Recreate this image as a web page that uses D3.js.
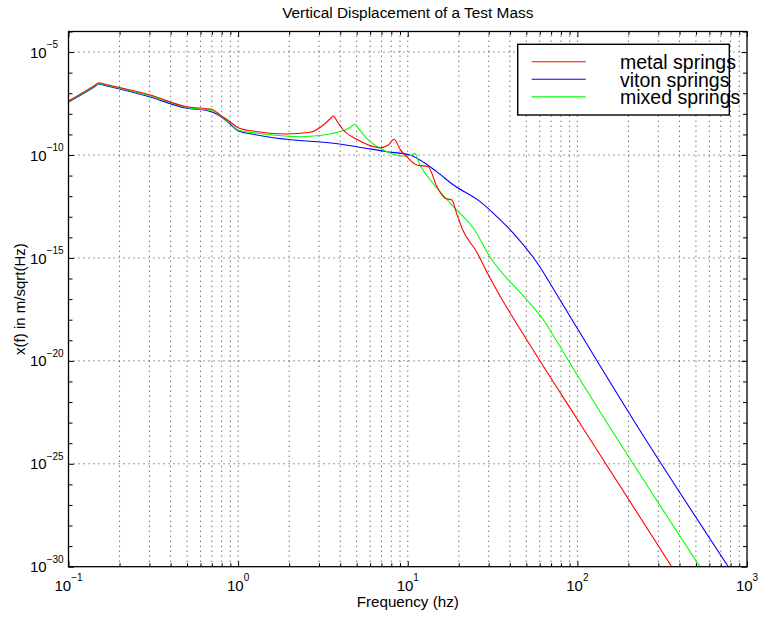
<!DOCTYPE html>
<html><head><meta charset="utf-8">
<script src="https://cdn.jsdelivr.net/npm/d3@7"></script>
<style>
body{margin:0;background:#fff}
svg{display:block;font-family:"Liberation Sans",Arial,Helvetica,sans-serif}
</style>
</head><body>
<svg id="chart" width="759" height="618"></svg>
<script>
// ---------- data ----------
const title = "Vertical Displacement of a Test Mass";
const xLabel = "Frequency (hz)";
const yLabel = "x(f) in m/sqrt(Hz)";
const seriesNames = ["metal springs", "viton springs", "mixed springs"];
const seriesColors = ["#ff0000", "#0000ff", "#00ff00"];

const metalFreq = [0.1, 0.1433, 0.151, 0.1597, 0.303, 0.498, 0.653, 0.70, 0.782, 0.895, 1.0, 1.3, 1.93, 2.65, 3.18, 3.48, 3.64, 3.83, 4.17, 5.0, 6.87, 7.69, 8.3, 9.02, 9.87, 11.3, 13.2, 14.8, 16.6, 18.2, 19.4, 21.1, 25.5, 29.7, 35.0, 50.4, 99, 360];
const metalVal  = [4.17e-8, 2.49e-7, 3.26e-7, 2.91e-7, 8.22e-8, 2.22e-8, 1.78e-8, 1.66e-8, 8.79e-9, 4.15e-9, 2.12e-9, 1.36e-9, 1.05e-9, 1.27e-9, 2.87e-9, 5.61e-9, 7.85e-9, 4.39e-9, 1.64e-9, 5.79e-10, 2.26e-10, 3.06e-10, 5.79e-10, 1.89e-10, 8.28e-11, 3.27e-11, 2.70e-11, 3.13e-12, 7.89e-13, 6.52e-13, 1.47e-13, 2.28e-14, 1.94e-15, 1.66e-16, 1.42e-17, 1.03e-19, 1.62e-23, 1.0e-30];

const vitonFreq = [0.1, 0.1433, 0.151, 0.1597, 0.303, 0.498, 0.653, 0.70, 0.782, 0.895, 1.0, 1.23, 1.93, 3.64, 5.0, 7.52, 10.3, 11.8, 14.8, 18.6, 26.7, 32.0, 42.0, 56.4, 79.1, 104, 214, 776];
const vitonVal  = [3.76e-8, 2.15e-7, 2.82e-7, 2.52e-7, 6.61e-8, 1.86e-8, 1.45e-8, 1.23e-8, 7.85e-9, 3.21e-9, 1.51e-9, 1.01e-9, 5.79e-10, 3.71e-10, 2.54e-10, 1.45e-10, 1.0e-10, 5.73e-11, 1.55e-11, 3.49e-12, 5.40e-13, 1.47e-13, 1.57e-14, 7.94e-16, 9.06e-18, 2.18e-19, 1.34e-23, 1.0e-30];

const mixedFreq = [0.1, 0.1433, 0.151, 0.1597, 0.303, 0.498, 0.70, 0.782, 0.895, 1.0, 1.3, 2.42, 3.64, 4.37, 4.63, 4.89, 5.16, 5.73, 6.87, 8.22, 9.42, 10.6, 11.0, 11.8, 12.9, 15.5, 18.6, 24.4, 30.5, 50.4, 63.1, 79.1, 104, 146, 528];
const mixedVal  = [3.98e-8, 2.32e-7, 3.02e-7, 2.72e-7, 7.41e-8, 2.04e-8, 1.41e-8, 8.32e-9, 3.59e-9, 1.64e-9, 1.14e-9, 7.76e-10, 1.14e-9, 1.77e-9, 2.37e-9, 3.10e-9, 1.82e-9, 6.49e-10, 2.12e-10, 1.08e-10, 8.95e-11, 1.0e-10, 1.21e-10, 3.27e-11, 1.07e-11, 1.65e-12, 3.08e-13, 2.75e-14, 1.15e-15, 9.06e-18, 9.66e-19, 4.88e-20, 1.17e-21, 1.34e-23, 1.0e-30];

const xTickExps = [-1, 0, 1, 2, 3];
const yTickExps = [-30, -25, -20, -15, -10, -5];

// ---------- layout ----------
const L = 68.5, R = 747, T = 31.5, B = 566.7;
const svg = d3.select("#chart");
const x = d3.scaleLog().domain([0.1, 1000]).range([L, R]);
const y = d3.scaleLog().domain([1e-30, 1e-4]).range([B, T]);

const series = [
  {name: seriesNames[0], color: seriesColors[0], pts: metalFreq.map((f, i) => [f, metalVal[i]])},
  {name: seriesNames[1], color: seriesColors[1], pts: vitonFreq.map((f, i) => [f, vitonVal[i]])},
  {name: seriesNames[2], color: seriesColors[2], pts: mixedFreq.map((f, i) => [f, mixedVal[i]])}
];

// tick value lists
const xMajor = xTickExps.map(e => Math.pow(10, e));
const xMinor = [];
for (let e = -1; e < 3; e++) for (let m = 2; m <= 9; m++) xMinor.push(m * Math.pow(10, e));
const yMajor = yTickExps.map(e => Math.pow(10, e));
const yMinor = [];
for (let e = -29; e <= -4; e++) if (e % 5 !== 0) yMinor.push(Math.pow(10, e));

// ---------- grid ----------
const grid = svg.append("g").attr("stroke", "#000").attr("stroke-width", 0.8)
  .attr("stroke-dasharray", "1,4");
grid.selectAll("line.v").data(xMajor.concat(xMinor).filter(v => v > 0.1 && v < 1000)).enter()
  .append("line").attr("x1", d => x(d)).attr("x2", d => x(d)).attr("y1", B).attr("y2", T);
grid.selectAll("line.h").data(yMajor.filter(v => v > 1e-30)).enter()
  .append("line").attr("x1", L).attr("x2", R).attr("y1", d => y(d)).attr("y2", d => y(d));

// ---------- curves ----------
svg.append("clipPath").attr("id", "clip").append("rect")
  .attr("x", L).attr("y", T).attr("width", R - L).attr("height", B - T);
const line = d3.line().x(d => x(d[0])).y(d => y(d[1])).curve(d3.curveMonotoneX);
const curves = svg.append("g").attr("clip-path", "url(#clip)");
[series[1], series[2], series[0]].forEach(s => {
  curves.append("path").attr("d", line(s.pts)).attr("fill", "none")
    .attr("stroke", s.color).attr("stroke-width", 1.1);
});

// ---------- axes ----------
const axG = svg.append("g");
function addAxis(axis, tr) {
  const g = axG.append("g").attr("transform", tr).call(axis);
  g.select(".domain").remove();
  g.selectAll("text").remove();
  g.selectAll("line").attr("stroke", "#000").attr("stroke-width", 1);
}
addAxis(d3.axisBottom(x).tickValues(xMajor).tickSize(-5.5), `translate(0,${B})`);
addAxis(d3.axisBottom(x).tickValues(xMinor).tickSize(-3.5), `translate(0,${B})`);
addAxis(d3.axisTop(x).tickValues(xMajor).tickSize(-5.5), `translate(0,${T})`);
addAxis(d3.axisTop(x).tickValues(xMinor).tickSize(-3.5), `translate(0,${T})`);
addAxis(d3.axisLeft(y).tickValues(yMajor).tickSize(-5.5), `translate(${L},0)`);
addAxis(d3.axisLeft(y).tickValues(yMinor).tickSize(-4), `translate(${L},0)`);
addAxis(d3.axisRight(y).tickValues(yMajor).tickSize(-5.5), `translate(${R},0)`);
addAxis(d3.axisRight(y).tickValues(yMinor).tickSize(-4), `translate(${R},0)`);

svg.append("rect").attr("x", L).attr("y", T).attr("width", R - L).attr("height", B - T)
  .attr("fill", "none").attr("stroke", "#000").attr("stroke-width", 1.3);

const minus = "\u2212";
// x tick labels
xTickExps.forEach(e => {
  const t = svg.append("text").attr("x", x(Math.pow(10, e))).attr("y", 590.7)
    .attr("text-anchor", "middle").attr("font-size", 15).attr("fill", "#000");
  t.append("tspan").text("10");
  t.append("tspan").attr("dy", -10).attr("font-size", 10).text(e < 0 ? minus + Math.abs(e) : String(e));
});
// y tick labels
yTickExps.forEach(e => {
  const yy = y(Math.pow(10, e));
  const t = svg.append("text").attr("x", 30).attr("y", yy + 5.6)
    .attr("text-anchor", "start").attr("font-size", 15).attr("fill", "#000");
  t.append("tspan").text("10");
  t.append("tspan").attr("dy", -9.6).attr("font-size", 10).text(minus + Math.abs(e));
});

// titles
svg.append("text").attr("x", (L + R) / 2).attr("y", 18.3).attr("text-anchor", "middle")
  .attr("font-size", 15.4).text(title);
svg.append("text").attr("x", (L + R) / 2).attr("y", 607).attr("text-anchor", "middle")
  .attr("font-size", 15.2).text(xLabel);
svg.append("text").attr("transform", `translate(24.5,${(T + B) / 2}) rotate(-90)`)
  .attr("text-anchor", "middle").attr("font-size", 15).text(yLabel);

// ---------- legend ----------
const lg = svg.append("g");
lg.append("rect").attr("x", 517.7).attr("y", 44.3).attr("width", 211.6).attr("height", 70.7)
  .attr("fill", "#fff").attr("stroke", "#000").attr("stroke-width", 1.4);
series.forEach((s, i) => {
  const ly = 61.7 + i * 17.6;
  lg.append("line").attr("x1", 531.7).attr("x2", 585.7).attr("y1", ly).attr("y2", ly)
    .attr("stroke", s.color).attr("stroke-width", 1.1);
  lg.append("text").attr("x", 620).attr("y", ly + 7.4).attr("font-size", 19.5)
    .attr("fill", "#000").text(s.name);
});
</script>
</body></html>
